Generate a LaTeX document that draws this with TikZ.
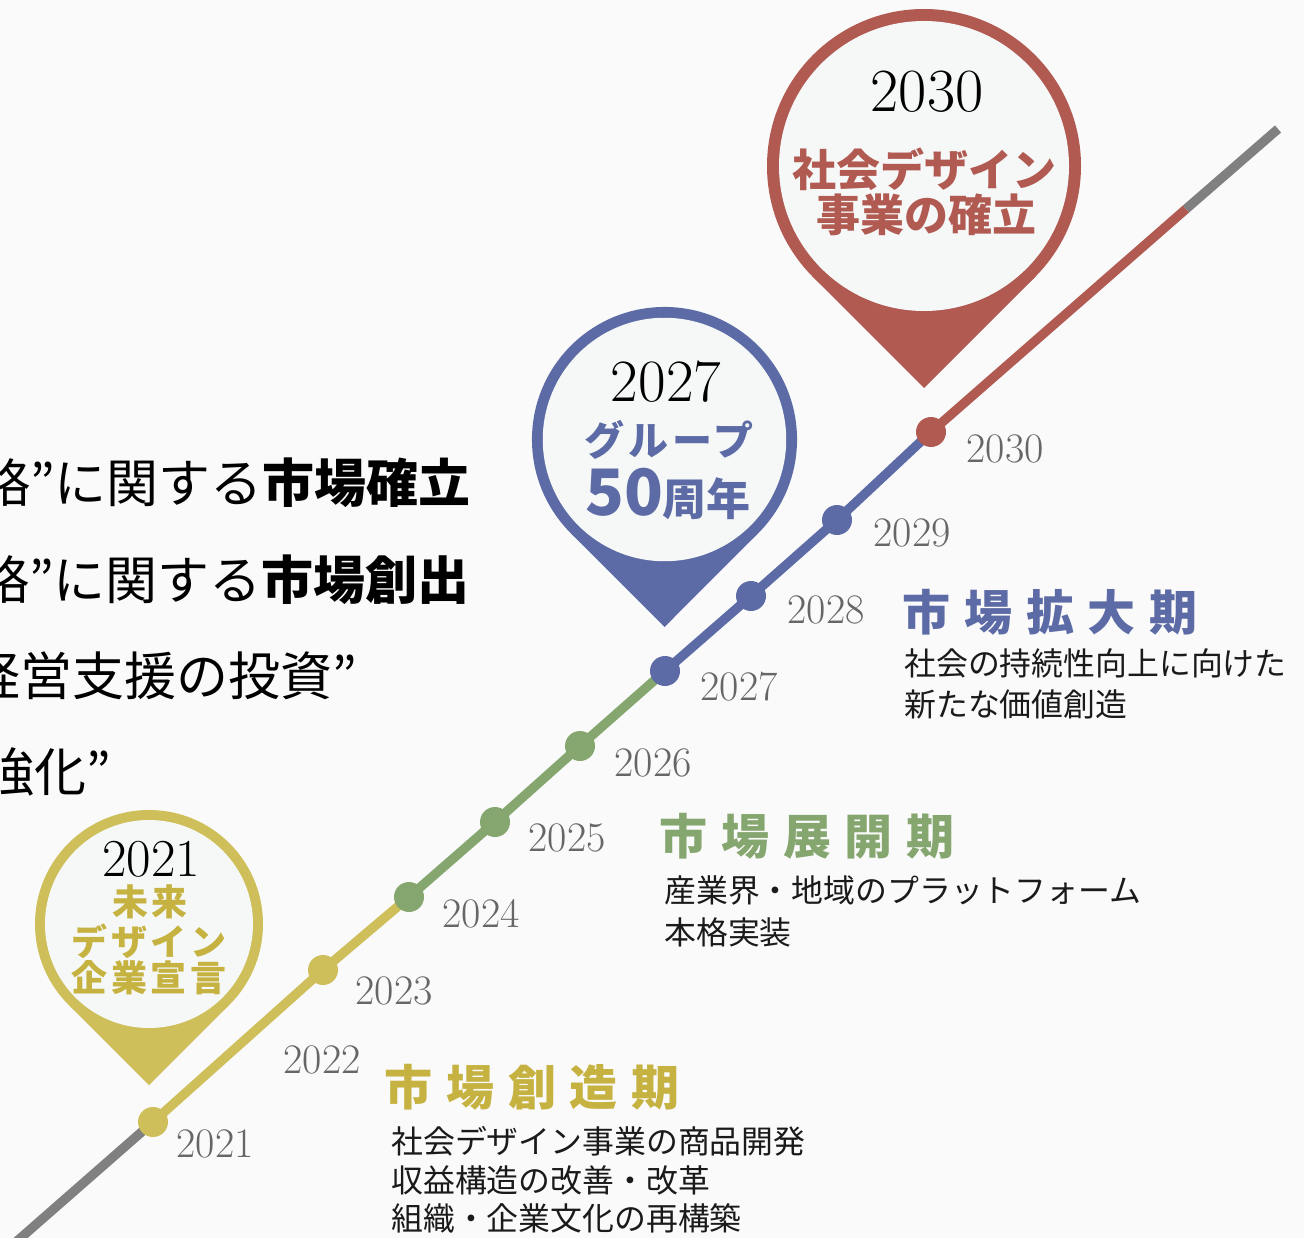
\documentclass[tikz,border=0pt]{standalone}
\usepackage{fontspec}
\newfontfamily\jp{Noto Sans CJK JP}
\definecolor{bgc}{HTML}{FAFAFA}
\definecolor{pinin}{HTML}{F6F8F7}
\definecolor{cr}{HTML}{B05A52}
\definecolor{cb}{HTML}{5C6BA5}
\definecolor{cg}{HTML}{85A66F}
\definecolor{cy}{HTML}{CEBF5A}
\definecolor{cyt}{HTML}{C6B240}
\definecolor{lgray}{HTML}{808080}
\definecolor{ygray}{HTML}{666666}
\definecolor{txt}{HTML}{1A1A1A}
\begin{document}
\begin{tikzpicture}[x=0.75pt,y=-0.75pt,
  seg/.style={line width=7pt,line cap=butt},
  tdot/.style={circle,minimum size=22.5pt,inner sep=0pt},
  yr/.style={font=\fontsize{31.5pt}{31.5pt}\selectfont,text=ygray,inner sep=0pt},
  pinyr/.style={inner sep=0pt,text=black},
  title/.style={font=\jp\bfseries\fontsize{36pt}{36pt}\selectfont\addfontfeatures{LetterSpace=29},inner sep=0pt,anchor=west},
  desc/.style={font=\jp\fontsize{23.9pt}{23.9pt}\selectfont,text=txt,inner sep=0pt,anchor=west},
  lefttext/.style={font=\jp\fontsize{39pt}{39pt}\selectfont,text=black,inner sep=0pt,anchor=east}
]
\useasboundingbox (0,0) rectangle (1304,1238);
\clip (0,0) rectangle (1304,1238);
\fill[bgc] (0,0) rectangle (1304,1238);

% ---------- left text (cut off at the left edge, as in the reference) ----------
\node[lefttext] (l1) at (471,483) {略”に関する\textbf{市場確立}};
\node[lefttext] (l2) at (470,580) {略”に関する\textbf{市場創出}};
\node[lefttext] (l3) at (357,676) {経営支援の投資”};
\node[lefttext] (l4) at (111,772) {強化”};

% ---------- pins ----------
% red 2030
\coordinate (p30) at (924,166);
\fill[cr] (p30) circle[radius=117.75pt];
\fill[cr] (924,388) -- (813,277) -- (p30) -- (1035,277) -- cycle;
\fill[pinin] (p30) circle[radius=108.75pt];
% blue 2027
\coordinate (p27) at (664.5,439.5);
\fill[cb] (p27) circle[radius=99.4pt];
\fill[cb] (664.5,627) -- (570.8,533.2) -- (p27) -- (758.2,533.2) -- cycle;
\fill[pinin] (p27) circle[radius=91.3pt];
% yellow 2021
\coordinate (p21) at (149,924);
\fill[cy] (p21) circle[radius=85.5pt];
\fill[cy] (149,1085.2) -- (68.4,1004.6) -- (p21) -- (229.6,1004.6) -- cycle;
\fill[pinin] (p21) circle[radius=78pt];

% pin texts
\node[pinyr,font=\fontsize{46pt}{46pt}\selectfont] (y30) at (927,92) {2030};
\node[inner sep=0pt,text=cr,font=\jp\bfseries\fontsize{33pt}{33pt}\selectfont] (t30a) at (924,169) {社会デザイン};
\node[inner sep=0pt,text=cr,font=\jp\bfseries\fontsize{33pt}{33pt}\selectfont] (t30b) at (926,215) {事業の確立};

\node[pinyr,font=\fontsize{45pt}{45pt}\selectfont] (y27) at (666,382) {2027};
\node[inner sep=0pt,text=cb,font=\jp\bfseries\fontsize{30pt}{30pt}\selectfont\addfontfeatures{LetterSpace=10}] (t27a) at (669,440) {グループ};
\node[inner sep=0pt,anchor=base,text=cb,font=\jp\bfseries\fontsize{33pt}{33pt}\selectfont] (t27b) at (668,515) {{\fontsize{48pt}{48pt}\selectfont 50}周年};

\node[pinyr,font=\fontsize{40pt}{40pt}\selectfont] (y21) at (151,859) {2021};
\node[inner sep=0pt,text=cyt,font=\jp\bfseries\fontsize{27pt}{27pt}\selectfont\addfontfeatures{LetterSpace=10}] (t21a) at (150,902) {未来};
\node[inner sep=0pt,text=cyt,font=\jp\bfseries\fontsize{27pt}{27pt}\selectfont\addfontfeatures{LetterSpace=10}] (t21b) at (149,941) {デザイン};
\node[inner sep=0pt,text=cyt,font=\jp\bfseries\fontsize{27pt}{27pt}\selectfont\addfontfeatures{LetterSpace=10}] (t21c) at (149,978) {企業宣言};

% ---------- timeline ----------
\coordinate (s0) at (8,1249);
\coordinate (c2021) at (153,1122);
\coordinate (c2023) at (323,970);
\coordinate (c2024) at (409,897);
\coordinate (c2025) at (495,822);
\coordinate (c2026) at (580,746);
\coordinate (c2027) at (665,671);
\coordinate (c2028) at (751,596);
\coordinate (c2029) at (837,520);
\coordinate (c2030) at (931,432);
\coordinate (e1) at (1186,209);
\coordinate (e2) at (1278,129);

\draw[seg,lgray] (s0) -- (c2021);
\draw[seg,cy] (c2021) -- (c2023) -- (c2024);
\draw[seg,cg] (c2024) -- (c2025) -- (c2026) -- (c2027);
\draw[seg,cb] (c2027) -- (c2028) -- (c2029) -- (c2030);
\draw[seg,cr] (c2030) -- (e1);
\draw[seg,lgray] (e1) -- (e2);

\node[tdot,fill=cy] (d2021) at (c2021) {};
\node[tdot,fill=cy] (d2023) at (c2023) {};
\node[tdot,fill=cg] (d2024) at (c2024) {};
\node[tdot,fill=cg] (d2025) at (c2025) {};
\node[tdot,fill=cg] (d2026) at (c2026) {};
\node[tdot,fill=cb] (d2027) at (c2027) {};
\node[tdot,fill=cb] (d2028) at (c2028) {};
\node[tdot,fill=cb] (d2029) at (c2029) {};
\node[tdot,fill=cr] (d2030) at (c2030) {};

% year labels
\node[yr] (y2021) at (215,1144) {2021};
\node[yr] (y2022) at (322,1060) {2022};
\node[yr] (y2023) at (394,991) {2023};
\node[yr] (y2024) at (481,914) {2024};
\node[yr] (y2025) at (567,838) {2025};
\node[yr] (y2026) at (653,763) {2026};
\node[yr] (y2027) at (739,687) {2027};
\node[yr] (y2028) at (826,610) {2028};
\node[yr] (y2029) at (912,533) {2029};
\node[yr] (y2030) at (1005,449) {2030};

% ---------- periods ----------
\node[title,text=cb] (h3) at (902,612) {市場拡大期};
\node[desc] (h3a) at (904,663) {社会の持続性向上に向けた};
\node[desc] (h3b) at (904,704) {新たな価値創造};

\node[title,text=cg] (h2) at (659,836) {市場展開期};
\node[desc] (h2a) at (664,890) {産業界・地域のプラットフォーム};
\node[desc] (h2b) at (664,932) {本格実装};

\node[title,text=cyt] (h1) at (384,1087) {市場創造期};
\node[desc] (h1a) at (391,1141) {社会デザイン事業の商品開発};
\node[desc] (h1b) at (391,1180) {収益構造の改善・改革};
\node[desc] (h1c) at (391,1218) {組織・企業文化の再構築};
\end{tikzpicture}
\end{document}
